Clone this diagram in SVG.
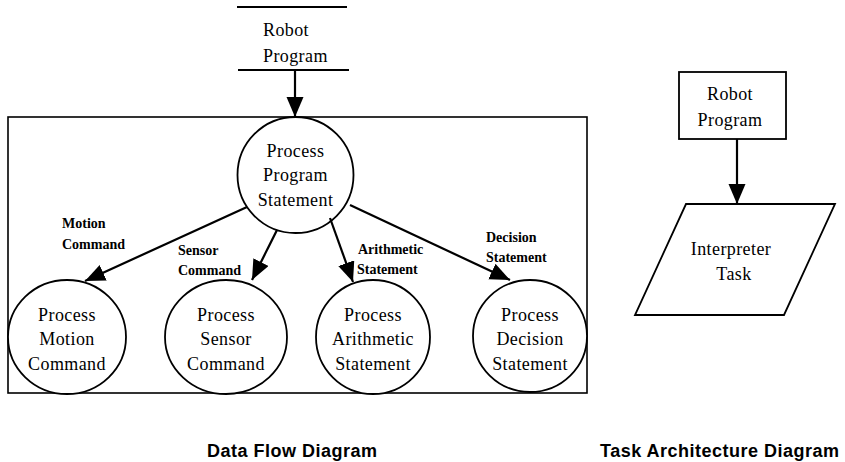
<svg xmlns="http://www.w3.org/2000/svg" width="845" height="462" viewBox="0 0 845 462">
  <style>
    .ln { stroke: #000; stroke-width: 1.8; fill: none; }
    .shape { stroke: #000; stroke-width: 1.8; fill: #fff; }
    .arrow { stroke: #000; stroke-width: 2.2; fill: none; marker-end: url(#head); }
    .t { font-family: "Liberation Serif", "Times New Roman", serif; font-size: 18px; letter-spacing: 0.4px; fill: #000; }
    .c { text-anchor: middle; }
    .lbl { font-family: "Liberation Serif", "Times New Roman", serif; font-size: 14px; font-weight: bold; fill: #000; }
    .title { font-family: "Liberation Sans", Arial, sans-serif; font-size: 18px; font-weight: bold; letter-spacing: 0.5px; fill: #000; }
  </style>
  <defs>
    <marker id="head" markerUnits="userSpaceOnUse" markerWidth="22" markerHeight="18" refX="20" refY="8.5" orient="auto">
      <path d="M0,0 L20,8.5 L0,17 Z" fill="#000"/>
    </marker>
  </defs>
  <rect width="845" height="462" fill="#fff"/>

  <!-- data flow diagram -->
  <g id="dfd-boundary">
    <rect x="8" y="117" width="579" height="276" fill="none" stroke="#000" stroke-width="1.6"/>
  </g>

  <g id="robot-program-store">
    <line class="ln" x1="237" y1="7" x2="347" y2="7"/>
    <line class="ln" x1="238" y1="70" x2="349" y2="70"/>
    <text class="t" x="263" y="36">Robot</text>
    <text class="t" x="263" y="62">Program</text>
  </g>

  <g id="process-program-statement">
    <circle class="shape" cx="295.5" cy="175" r="58"/>
    <text class="t c" x="295.5" y="157">Process</text>
    <text class="t c" x="295.5" y="181">Program</text>
    <text class="t c" x="295.5" y="206">Statement</text>
  </g>

  <g id="process-motion-command">
    <ellipse class="shape" cx="67" cy="337" rx="59" ry="57"/>
    <text class="t c" x="67" y="321">Process</text>
    <text class="t c" x="67" y="345">Motion</text>
    <text class="t c" x="67" y="370">Command</text>
  </g>

  <g id="process-sensor-command">
    <ellipse class="shape" cx="226" cy="337" rx="61" ry="57"/>
    <text class="t c" x="226" y="321">Process</text>
    <text class="t c" x="226" y="345">Sensor</text>
    <text class="t c" x="226" y="370">Command</text>
  </g>

  <g id="process-arithmetic-statement">
    <ellipse class="shape" cx="373" cy="337" rx="57" ry="57"/>
    <text class="t c" x="373" y="321">Process</text>
    <text class="t c" x="373" y="345">Arithmetic</text>
    <text class="t c" x="373" y="370">Statement</text>
  </g>

  <g id="process-decision-statement">
    <ellipse class="shape" cx="530" cy="336" rx="57" ry="56"/>
    <text class="t c" x="530" y="321">Process</text>
    <text class="t c" x="530" y="345">Decision</text>
    <text class="t c" x="530" y="370">Statement</text>
  </g>

  <g id="connectors">
    <line class="arrow" x1="295" y1="70" x2="295" y2="117"/>
    <line class="arrow" x1="247" y1="207" x2="85" y2="281"/>
    <line class="arrow" x1="277" y1="230" x2="252" y2="280"/>
    <line class="arrow" x1="330" y1="218" x2="353" y2="282"/>
    <line class="arrow" x1="350" y1="205" x2="510" y2="280"/>
    <line class="arrow" x1="737" y1="139" x2="737" y2="204"/>
  </g>

  <g id="flow-labels">
    <text class="lbl" x="62" y="228">Motion</text>
    <text class="lbl" x="62" y="249">Command</text>
    <text class="lbl" x="178" y="255">Sensor</text>
    <text class="lbl" x="178" y="275">Command</text>
    <text class="lbl" x="358" y="254">Arithmetic</text>
    <text class="lbl" x="357" y="274">Statement</text>
    <text class="lbl" x="486" y="242">Decision</text>
    <text class="lbl" x="486" y="262">Statement</text>
  </g>

  <!-- task architecture diagram -->
  <g id="robot-program-input">
    <rect class="shape" x="679" y="72" width="107" height="67"/>
    <text class="t c" x="730" y="100">Robot</text>
    <text class="t c" x="730" y="126">Program</text>
  </g>

  <g id="interpreter-task">
    <polygon class="shape" points="686,204 835,204 784,315 635,315"/>
    <text class="t c" x="731" y="255">Interpreter</text>
    <text class="t c" x="734" y="280">Task</text>
  </g>

  <g id="captions">
    <text class="title" x="207" y="457">Data Flow Diagram</text>
    <text class="title" x="600" y="457">Task Architecture Diagram</text>
  </g>
</svg>
